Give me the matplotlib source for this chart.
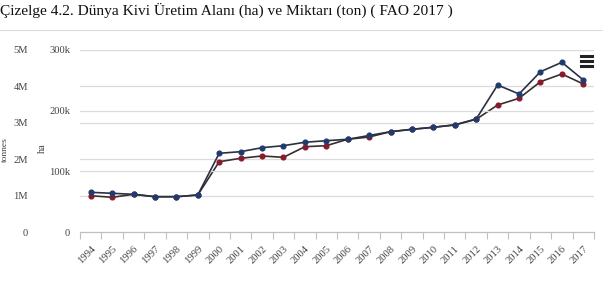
import matplotlib
matplotlib.use("Agg")
import matplotlib.pyplot as plt
from matplotlib.lines import Line2D

title = "Çizelge 4.2. Dünya Kivi Üretim Alanı (ha) ve Miktarı (ton) ( FAO 2017 )"
years = [str(y) for y in range(1994, 2018)]
area_ha = [65400, 63800, 62100, 58200, 58200, 61000, 129700, 132400, 139000, 142300,
           147900, 150500, 152800, 159100, 165300, 169300, 172600, 176700, 186300,
           242300, 227500, 264200, 279700, 250600]
production_t = [997000, 953000, 1036000, 970000, 970000, 1016000, 1931000, 2025000,
                2088000, 2052000, 2343000, 2371000, 2547000, 2610000, 2756000, 2821000,
                2876000, 2940000, 3096000, 3489000, 3673000, 4129000, 4341000, 4066000]
t_ticks = [0, 1e6, 2e6, 3e6, 4e6, 5e6]
t_labels = ["0", "1M", "2M", "3M", "4M", "5M"]
ha_ticks = [0, 100000, 200000, 300000]
ha_labels = ["0", "100k", "200k", "300k"]

serif = "Liberation Serif"
fig = plt.figure(figsize=(6.03, 2.82), dpi=100)
fig.text(0.0, 0.99, title, family=serif, fontsize=11.1, color="#111111", ha="left", va="top")
fig.add_artist(Line2D([0.0, 1.0], [1 - 30 / 282, 1 - 30 / 282], transform=fig.transFigure,
                      color="#dcdcdc", lw=0.8))

ax = fig.add_axes([80 / 603, 1 - 232 / 282, 514 / 603, 182 / 282])
ax2 = ax.twinx()
x = list(range(len(years)))

ax.set_xlim(-0.5, len(years) - 0.5)
ax.set_ylim(0, 5e6)
ax2.set_ylim(0, 300000)

for a in (ax, ax2):
    for s in a.spines.values():
        s.set_visible(False)
    a.set_facecolor("none")

ax.spines["bottom"].set_visible(True)
ax.spines["bottom"].set_color("#c0c0c0")
ax.spines["bottom"].set_linewidth(0.9)

ax.set_yticks(t_ticks)
ax.set_yticklabels(t_labels, family=serif, fontsize=7.6, color="#444444")
ax.tick_params(axis="y", length=0, pad=52 * 0.72)
ax2.set_yticks(ha_ticks)
ax2.set_yticklabels(ha_labels, family=serif, fontsize=7.6, color="#444444")
ax2.yaxis.tick_left()
ax2.tick_params(axis="y", length=0, pad=10 * 0.72, left=False, labelleft=True, right=False, labelright=False)

for v in t_ticks[1:]:
    ax.axhline(v, color="#dcdcdc", lw=0.9, zorder=0)
for v in ha_ticks[1:]:
    ax2.axhline(v, color="#dcdcdc", lw=0.9, zorder=0)

ax.set_xticks([i - 0.5 for i in range(len(years) + 1)], minor=False)
ax.set_xticklabels([])
ax.tick_params(axis="x", length=5, color="#c0c0c0", width=0.8)
ax.set_xticks(x, minor=True)
ax.set_xticklabels(years, minor=True, rotation=45, ha="right", va="top", rotation_mode="anchor",
                   family=serif, fontsize=7.6, color="#444444")
ax.tick_params(axis="x", which="minor", length=0, pad=9)

ax.plot(x, production_t, color="#3b2e30", lw=1.2, marker="o", ms=3.4,
        mfc="#8a1a2a", mec="#8a1a2a", zorder=3)
ax2.plot(x, area_ha, color="#2a3240", lw=1.2, marker="o", ms=3.4,
         mfc="#1f3c72", mec="#1f3c72", zorder=3)

fig.text(5 / 603, 1 - 150 / 282, "tonnes", family=serif, fontsize=6.8, color="#444444",
         rotation=90, ha="center", va="center")
fig.text(42 / 603, 1 - 148 / 282, "ha", family=serif, fontsize=7.5, color="#444444",
         rotation=90, ha="center", va="center")

for yy in (56, 61, 66):
    fig.add_artist(Line2D([581 / 603, 592 / 603], [1 - yy / 282, 1 - yy / 282],
                          transform=fig.transFigure, color="#222222", lw=2.2))

fig.savefig("out.png", dpi=100)
